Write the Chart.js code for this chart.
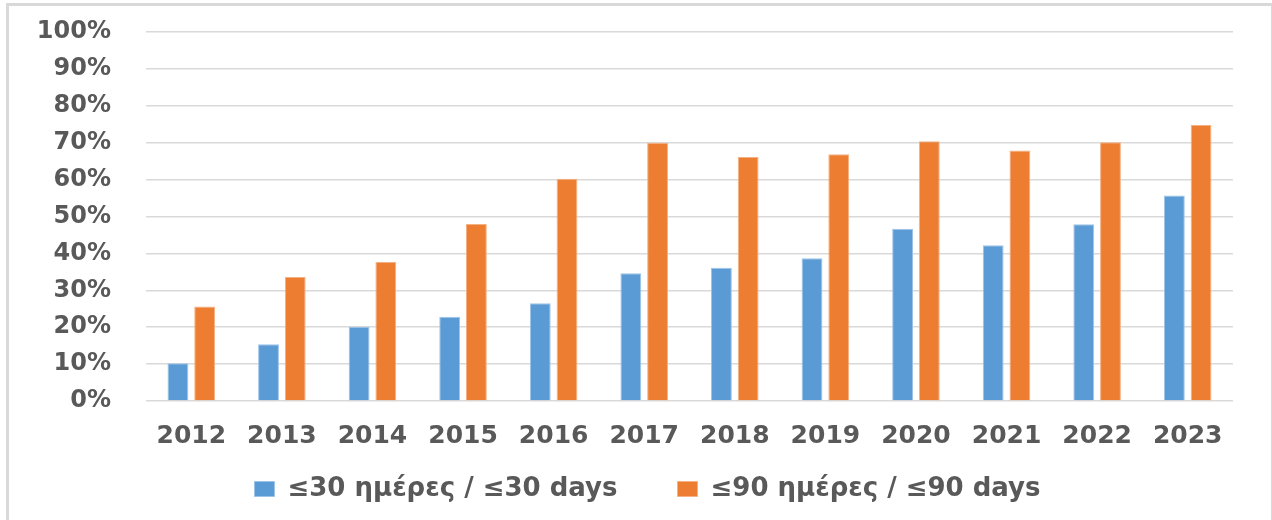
<!DOCTYPE html>
<html>
<head>
<meta charset="utf-8">
<script src="https://cdn.jsdelivr.net/npm/chart.js@4.4.1/dist/chart.umd.min.js"></script>
<style>
	html, body { margin: 0; padding: 0; background: #fff; }
	#wrap { position: relative; width: 1272px; height: 520px; overflow: hidden; }
	#frame {
		position: absolute; left: 6px; top: 3px; width: 1262px; height: 530px;
		border-left: 3px solid #d9d9d9; border-top: 3px solid #d9d9d9; border-right: 1px solid #d9d9d9;
	}
	#chart { position: absolute; left: 0; top: 0; }
</style>
</head>
<body>
<div id="wrap">
	<div id="frame"></div>
	<canvas id="chart" width="1272" height="520"></canvas>
</div>
<script>
const years = ["2012", "2013", "2014", "2015", "2016", "2017", "2018", "2019", "2020", "2021", "2022", "2023"];
const within30 = [10.2, 15.4, 20.1, 22.8, 26.5, 34.6, 36.1, 38.7, 46.7, 42.2, 47.9, 55.7];
const within90 = [25.6, 33.6, 37.7, 48.0, 60.2, 70.0, 66.1, 66.9, 70.4, 67.9, 70.1, 74.8];
const label30 = "≤30 ημέρες / ≤30 days";
const label90 = "≤90 ημέρες / ≤90 days";

const textColor = "#595959";
const fontFamily = "'DejaVu Sans', Verdana, sans-serif";

// fixed heights for the x axis + legend boxes so the plot ends at y=401
const xAxisHeight = 68;
const legendHeight = 51;
const legendTop = 416; // legend is drawn from here (label padding 60 also sets the gap between items)
const legendShiftX = 31;

const fixLegend = {
	id: "fixLegend",
	beforeLayout(chart) {
		const lg = chart.legend;
		if (lg && !lg._patched) {
			const fit = lg.fit;
			lg.fit = function () {
				fit.call(this);
				this.height = legendHeight;
			};
			lg._patched = true;
		}
	},
	afterLayout(chart) {
		const lg = chart.legend;
		if (lg) {
			lg.top = legendTop;
			lg.left += legendShiftX;
			lg.right += legendShiftX;
		}
	}
};

const ctx = document.getElementById("chart").getContext("2d");

new Chart(ctx, {
	type: "bar",
	data: {
		labels: years,
		datasets: [
			{
				label: label30,
				data: within30,
				backgroundColor: "#5b9bd5",
				borderColor: "#9dc3e6",
				borderWidth: 1
			},
			{
				label: label90,
				data: within90,
				backgroundColor: "#ed7d31",
				borderColor: "#f4b183",
				borderWidth: 1
			}
		]
	},
	plugins: [fixLegend],
	options: {
		responsive: false,
		animation: false,
		categoryPercentage: 0.59,
		barPercentage: 0.78,
		layout: {
			padding: { top: 32, right: 39, left: 0, bottom: 0 }
		},
		plugins: {
			tooltip: { enabled: false },
			legend: {
				position: "bottom",
				labels: {
					color: textColor,
					font: { family: fontFamily, size: 26, weight: "bold" },
					boxWidth: 20,
					boxHeight: 15,
					padding: 60
				}
			}
		},
		scales: {
			x: {
				afterFit: (scale) => { scale.height = xAxisHeight; },
				grid: { display: false, drawTicks: false },
				border: { display: false },
				ticks: {
					color: textColor,
					font: { family: fontFamily, size: 25, weight: "bold" },
					padding: 20,
					maxRotation: 0
				}
			},
			y: {
				min: 0,
				max: 100,
				afterFit: (scale) => { scale.width = 146; },
				grid: { color: "#d9d9d9", lineWidth: 1.5, drawTicks: true, tickLength: 35, tickColor: "rgba(0,0,0,0)" },
				border: { display: false },
				ticks: {
					stepSize: 10,
					autoSkip: false,
					color: textColor,
					font: { family: fontFamily, size: 24, weight: "bold" },
					padding: 0,
					callback: (v) => v + "%"
				}
			}
		}
	}
});
</script>
</body>
</html>
